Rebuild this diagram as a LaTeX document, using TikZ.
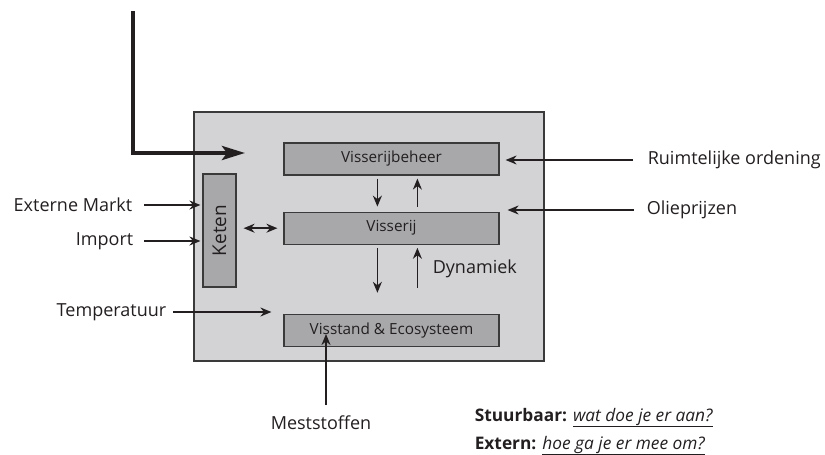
\documentclass[tikz,border=0pt]{standalone}
\usepackage{fontspec}
\setmainfont{Open Sans}
\usetikzlibrary{arrows,arrows.meta,positioning}
\definecolor{kader}{HTML}{D3D3D5}
\definecolor{blok}{HTML}{A8A8AA}
\definecolor{lijn}{HTML}{3A3A3A}
\definecolor{tekst}{HTML}{231F20}
\begin{document}
\begin{tikzpicture}[x=1pt,y=-1pt,>={Stealth[length=11pt,width=9pt]},shorten >=1pt,
	line width=1.6pt,draw=tekst,every edge/.style={draw,->},
	main node/.style={rectangle,draw=lijn,fill=blok,line width=1.2pt,minimum width=215pt,
		minimum height=32pt,inner sep=0pt,font=\fontsize{15.3}{18}\selectfont,text=tekst},
	label node/.style={inner sep=0pt,font=\fontsize{18}{21}\selectfont,text=tekst}]
	\useasboundingbox (0,0) rectangle (825,455);
	
	\node[rectangle,draw=lijn,fill=kader,line width=1.3pt,minimum width=350pt,minimum height=249pt] (systeem) at (369,236.5) {};
	\node[main node] (beheer) at (391.5,159) {Visserijbeheer};
	\node[main node] (visserij) [below=36pt of beheer] {Visserij};
	\node[main node] (visstand) [below=69pt of visserij] {Visstand \& Ecosysteem};
	\node[main node,minimum width=113pt,minimum height=33pt,rotate=90,font=\fontsize{19}{22}\selectfont] (keten) at (219.5,230.5) {Keten};
	
	\node[label node,anchor=east] (markt) at (133,205) {Externe Markt};
	\node[label node,anchor=east] (import) at (134,241) {Import};
	\node[label node,anchor=east] (temp) at (167,312) {Temperatuur};
	\node[label node,anchor=west] (ruimte) at (647,160) {Ruimtelijke ordening};
	\node[label node,anchor=west] (olie) at (646,210) {Olieprijzen};
	\node[label node,anchor=base west] (dynamiek) at (432,273) {Dynamiek};
	\node[label node,anchor=base] (mest) at (321,429) {Meststoffen};
	\node[inner sep=0pt,anchor=base west,font=\fontsize{17.3}{20}\selectfont,text=tekst] (stuur) at (474,421)
		{\textbf{Stuurbaar:} \underline{\textit{wat doe je er aan?}}};
	\node[inner sep=0pt,anchor=base west,font=\fontsize{17.3}{20}\selectfont,text=tekst] (extern) at (474,449)
		{\textbf{Extern:} \underline{\textit{hoe ga je er mee om?}}};
	
	\coordinate (bron) at (133,11);
	\coordinate (hoek) at (133,153);
	\coordinate (inval) at (245,153);
	\coordinate (tempeind) at ([xshift=-11pt]visstand.north west);
	\coordinate (mestvoet) at (326,405);
	\coordinate (mestpunt) at (326,334);
	
	% sturing van buitenaf
	\draw[line width=4pt,shorten >=0pt,-{Stealth[length=23pt,width=14pt,inset=5pt]}] (bron) -- (hoek) -- (inval);
	
	\path
	(markt.east) edge[shorten <=11pt,shorten >=2pt] (markt.east -| keten.north)
	(import.east) edge[shorten <=10pt,shorten >=2pt] (import.east -| keten.north)
	(temp.east) edge[shorten <=6pt] (temp.east -| tempeind)
	(ruimte.west) edge[shorten <=14pt,shorten >=6pt] (ruimte.west -| beheer.east)
	(olie.west) edge[shorten <=12pt,shorten >=8pt] (olie.west -| visserij.east)
	(mestvoet) edge[shorten >=0pt] (mestpunt)
	(keten.south |- visserij.west) edge[<->,shorten <=7pt,shorten >=6pt] (visserij.west)
	([xshift=94pt]beheer.south west) edge[shorten <=3pt,shorten >=5pt] ([xshift=94pt]visserij.north west)
	([xshift=134pt]visserij.north west) edge[shorten <=5pt,shorten >=3pt] ([xshift=134pt]beheer.south west)
	([xshift=94pt]visserij.south west) edge[shorten <=3pt,shorten >=21pt] ([xshift=94pt]visstand.north west)
	([xshift=134pt]visstand.north west) edge[shorten <=26pt,shorten >=3pt] ([xshift=134pt]visserij.south west);
\end{tikzpicture}
\end{document}
